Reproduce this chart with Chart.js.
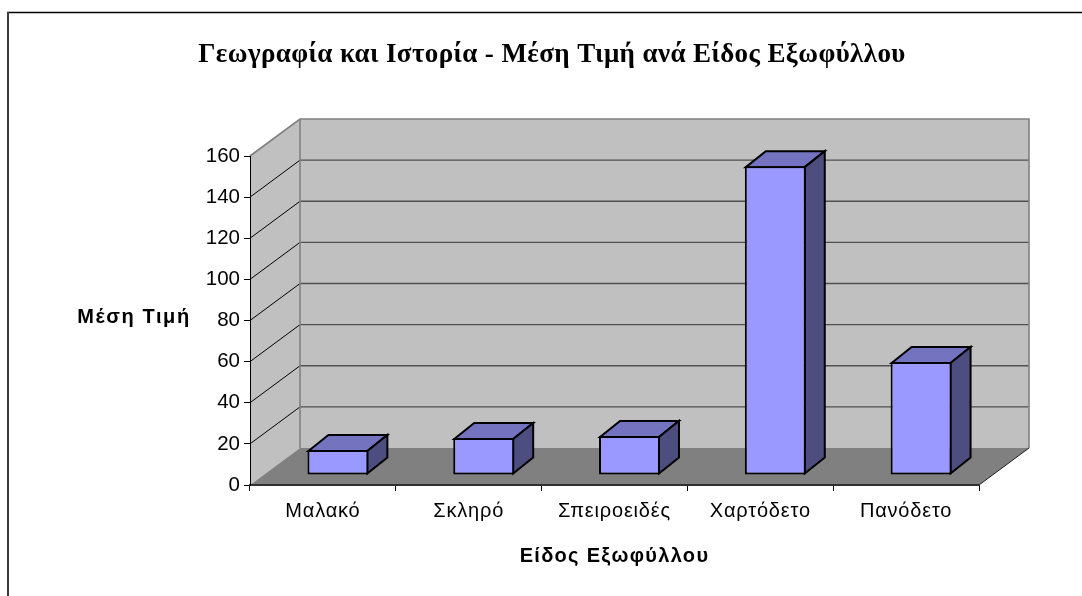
<!DOCTYPE html>
<html><head><meta charset="utf-8">
<style>html,body{margin:0;padding:0;background:#fff}#w{width:1082px;height:596px}canvas{display:block}</style>
<script src="https://cdn.jsdelivr.net/npm/chart.js@4/dist/chart.umd.min.js"></script>
</head><body><div id="w"><canvas id="c" width="1082" height="596"></canvas></div>
<script>
const categories = ["Μαλακό","Σκληρό","Σπειροειδές","Χαρτόδετο","Πανόδετο"];
const meanPrice = [12.2,18,19,150.2,55];
const chartTitle = "Γεωγραφία και Ιστορία - Μέση Τιμή ανά Είδος Εξωφύλλου";
const yTitle = "Μέση Τιμή";
const xTitle = "Είδος Εξωφύλλου";
const DEPTH_X = 50, DEPTH_Y = 37;
const BAR_SHIFT_X = 15, BAR_SHIFT_Y = 10, BAR_DEPTH_X = 20, BAR_DEPTH_Y = 16;

function spaced(obj,method,spacing){
  if(obj['_sp_'+method]) return;
  obj['_sp_'+method]=true;
  const orig=obj[method];
  obj[method]=function(...a){
    const ctx=this.ctx;
    ctx.save();ctx.letterSpacing=spacing;
    const r=orig.apply(this,a);
    ctx.restore();
    ctx.letterSpacing='0px';
    return r;
  };
}

const threeD = {
  id:'threeD',
  afterLayout(chart){
    spaced(chart.titleBlock,'draw','0.4px');
    spaced(chart.scales.x,'drawLabels','0.8px');
    spaced(chart.scales.x,'drawTitle','1.3px');
  },
  beforeDraw(chart){
    const {ctx,chartArea:a,scales:{y}} = chart;
    const l=a.left,r=a.right,t=y.getPixelForValue(160),b=y.getPixelForValue(0);
    const dx=DEPTH_X,dy=DEPTH_Y;
    ctx.save();
    ctx.fillStyle='#fff';ctx.fillRect(0,0,chart.width,chart.height);
    // frame: top and left edges only are visible
    ctx.strokeStyle='#000';ctx.lineWidth=1.5;
    ctx.beginPath();ctx.moveTo(1082,12.5);ctx.lineTo(7,12.5);ctx.stroke();
    ctx.strokeStyle='#3c3c3c';ctx.lineWidth=2;
    ctx.beginPath();ctx.moveTo(8,12);ctx.lineTo(8,596);ctx.stroke();
    // back wall
    ctx.fillStyle='#C0C0C0';
    ctx.fillRect(l+dx,t-dy,r-l,b-t);
    // side wall
    ctx.beginPath();ctx.moveTo(l,t);ctx.lineTo(l+dx,t-dy);ctx.lineTo(l+dx,b-dy);ctx.lineTo(l,b);ctx.closePath();ctx.fill();
    // floor
    ctx.fillStyle='#808080';
    ctx.beginPath();ctx.moveTo(l,b);ctx.lineTo(l+dx,b-dy);ctx.lineTo(r+dx,b-dy);ctx.lineTo(r,b);ctx.closePath();ctx.fill();
    // gridlines
    y.ticks.forEach(tk=>{
      if(tk.value===0||tk.value===160) return;
      const p=y.getPixelForValue(tk.value);
      ctx.strokeStyle='#000';ctx.lineWidth=1;
      ctx.beginPath();ctx.moveTo(l,p);ctx.lineTo(l+dx,p-dy);ctx.stroke();
      ctx.strokeStyle='#505050';ctx.lineWidth=1.4;
      ctx.beginPath();ctx.moveTo(l+dx,p-dy);ctx.lineTo(r+dx,p-dy);ctx.stroke();
    });
    // wall edges
    ctx.strokeStyle='#808080';ctx.lineWidth=1.6;
    ctx.beginPath();ctx.moveTo(l,t);ctx.lineTo(l+dx,t-dy);ctx.lineTo(r+dx,t-dy);ctx.lineTo(r+dx,b-dy);ctx.stroke();
    ctx.beginPath();ctx.moveTo(l+dx,t-dy);ctx.lineTo(l+dx,b-dy);ctx.stroke();
    // floor right edge
    ctx.strokeStyle='#202020';ctx.lineWidth=1;
    ctx.beginPath();ctx.moveTo(r,b);ctx.lineTo(r+dx,b-dy);ctx.stroke();
    ctx.restore();
  },
  afterDraw(chart){
    const {ctx}=chart;
    ctx.save();
    ctx.fillStyle='#000';ctx.font='bold 20px "Liberation Sans"';ctx.letterSpacing='1.6px';ctx.textAlign='center';ctx.textBaseline='middle';
    ctx.fillText(yTitle,134,317);
    ctx.restore();
    ctx.letterSpacing='0px';
  },
  beforeDatasetDraw(chart,args){
    const {ctx}=chart;
    const meta=args.meta;
    const ddx=BAR_DEPTH_X,ddy=BAR_DEPTH_Y;
    ctx.save();
    ctx.translate(BAR_SHIFT_X,-BAR_SHIFT_Y);
    ctx.strokeStyle='#000';ctx.lineWidth=2;ctx.lineJoin='miter';
    meta.data.forEach(el=>{
      const p=el.getProps(['x','y','base','width'],true);
      const x0=p.x-p.width/2,x1=p.x+p.width/2;
      ctx.fillStyle='#7373BF';
      ctx.beginPath();ctx.moveTo(x0+1,p.y+1);ctx.lineTo(x0+1+ddx,p.y+1-ddy);ctx.lineTo(x1-1+ddx,p.y+1-ddy);ctx.lineTo(x1-1,p.y+1);ctx.closePath();ctx.fill();ctx.stroke();
      ctx.fillStyle='#4D4D80';
      ctx.beginPath();ctx.moveTo(x1-1,p.y+1);ctx.lineTo(x1-1+ddx,p.y+1-ddy);ctx.lineTo(x1-1+ddx,p.base-1-ddy);ctx.lineTo(x1-1,p.base-1);ctx.closePath();ctx.fill();ctx.stroke();
    });
    ctx.restore();
    ctx.save();
    ctx.translate(BAR_SHIFT_X,-BAR_SHIFT_Y);
  },
  afterDatasetDraw(chart){ chart.ctx.restore(); }
};

new Chart(document.getElementById('c'),{
  type:'bar',
  data:{labels:categories,datasets:[{label:yTitle,data:meanPrice,backgroundColor:'#9999FF',borderColor:'#000',borderWidth:2,borderSkipped:false,barPercentage:1,categoryPercentage:0.418,clip:false}]},
  plugins:[threeD],
  options:{
    responsive:false,animation:false,
    layout:{padding:{left:22,right:0,top:0,bottom:0}},
    plugins:{
      legend:{display:false},tooltip:{enabled:false},
      title:{display:true,text:chartTitle,color:'#000',font:{family:'"Liberation Serif"',size:27,weight:'bold',lineHeight:1.2},padding:{top:39,bottom:84.6}}
    },
    scales:{
      x:{
        afterFit(s){s.height=111;},
        grid:{drawOnChartArea:false,tickLength:6,tickColor:'#000',tickWidth:1},
        border:{display:true,color:'#303030',width:2},
        ticks:{color:'#000',font:{family:'"Liberation Sans"',size:20},padding:8,maxRotation:0,autoSkip:false},
        title:{display:true,text:xTitle,color:'#000',font:{family:'"Liberation Sans"',size:20,weight:'bold'},padding:{top:0,bottom:28}}
      },
      y:{
        min:0,max:160,
        afterFit(s){s.width=228;},
        grid:{drawOnChartArea:false,tickLength:6,tickColor:'#000',tickWidth:1},
        border:{display:true,color:'#000',width:1},
        ticks:{stepSize:20,color:'#000',font:{family:'"Liberation Sans"',size:20.5},padding:4}
      },
      gutter:{
        type:'linear',position:'right',display:true,
        afterFit(s){s.width=103;},
        grid:{display:false},border:{display:false},ticks:{display:false}
      }
    }
  }
});
</script></body></html>
